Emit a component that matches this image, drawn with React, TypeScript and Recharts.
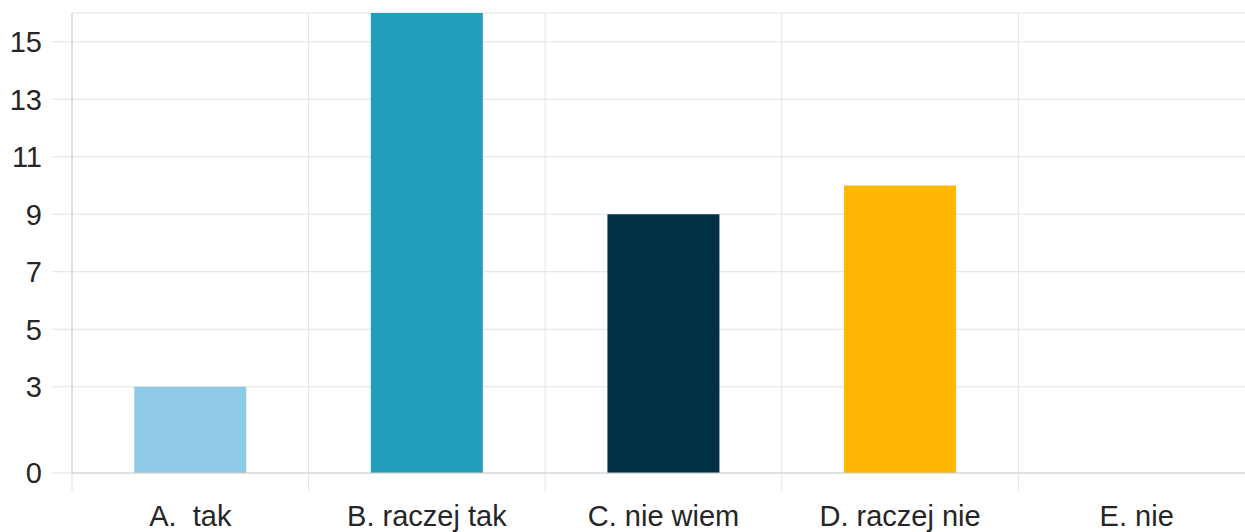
import { BarChart, Bar, XAxis, YAxis, CartesianGrid, Cell } from 'recharts'

const categories = ['A.  tak', 'B. raczej tak', 'C. nie wiem', 'D. raczej nie', 'E. nie']
const counts = [3, 16, 9, 10, 0]
const colors = ['#8ecae6', '#219ebc', '#023047', '#ffb703', '#fb8500']
const yTicks = [0, 3, 5, 7, 9, 11, 13, 15]
const edgeTicks = [0, 1, 2, 3, 4, 5]

const data = categories.map((name, i) => ({ name, value: counts[i], edge: i + 0.5 }))

const FONT = 'Arial, "Liberation Sans", sans-serif'
const GRID = '#e2e2e2'
const TEXT = '#262626'

// category label plus the small boundary marks under the axis
function CatTick(props: any) {
  const { x, y, payload, index } = props
  const half = payload?.offset ?? 0
  return (
    <g>
      <line x1={x - half} x2={x - half} y1={y} y2={y + 18} stroke={GRID} />
      {index === categories.length - 1 && (
        <line x1={x + half} x2={x + half} y1={y} y2={y + 18} stroke={GRID} />
      )}
      <text
        x={x}
        y={y + 32}
        dy="0.71em"
        textAnchor="middle"
        fill={TEXT}
        fontSize={29}
        fontFamily={FONT}
        style={{ whiteSpace: 'pre' }}
      >
        {payload.value}
      </text>
    </g>
  )
}

export default function App() {
  return (
    <div style={{ position: 'absolute', left: 0, top: 0, width: 1245, height: 532, overflow: 'hidden', background: '#fff' }}>
      <BarChart
        width={1280}
        height={532}
        data={data}
        margin={{ top: 13, right: 25, bottom: 0, left: 0 }}
        barCategoryGap="26.3%"
      >
        <CartesianGrid stroke={GRID} xAxisId="edges" />
        <XAxis xAxisId="edges" type="number" dataKey="edge" domain={[0, 5]} ticks={edgeTicks} hide />
        <XAxis
          dataKey="name"
          height={59}
          tickSize={0}
          tickMargin={0}
          axisLine={{ stroke: '#cfcfcf' }}
          tickLine={false}
          tick={<CatTick />}
          interval={0}
        />
        <YAxis
          width={72}
          domain={[0, 16]}
          ticks={yTicks}
          interval={0}
          tickSize={20}
          tickMargin={10}
          axisLine={{ stroke: '#cfcfcf' }}
          tickLine={{ stroke: GRID }}
          tick={{ fill: TEXT, fontSize: 29, fontFamily: FONT }}
        />
        <Bar dataKey="value" isAnimationActive={false}>
          {data.map((d, i) => (
            <Cell key={d.name} fill={colors[i]} />
          ))}
        </Bar>
      </BarChart>
    </div>
  )
}
